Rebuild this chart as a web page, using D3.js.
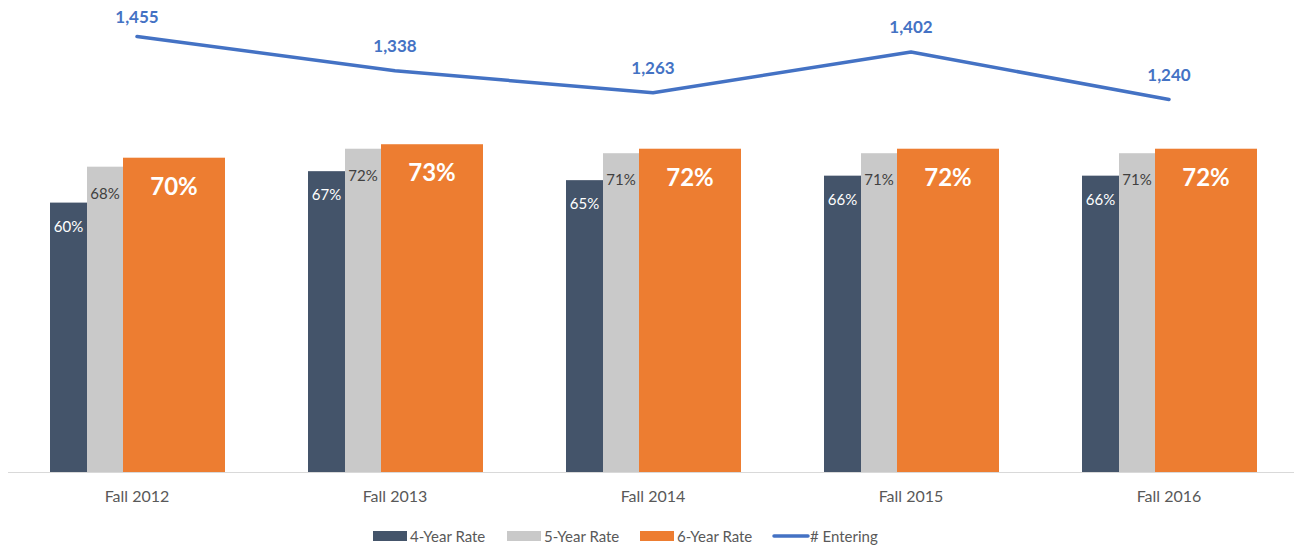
<!DOCTYPE html>
<html>
<head>
<meta charset="utf-8">
<script src="https://cdn.jsdelivr.net/npm/d3@7/dist/d3.min.js"></script>
<style>
  body { margin: 0; background: #fff; }
  svg { display: block; font-family: Lato, "Open Sans", sans-serif; }
</style>
</head>
<body>
<svg id="chart" width="1294" height="546"></svg>
<script>
const categories = ["Fall 2012", "Fall 2013", "Fall 2014", "Fall 2015", "Fall 2016"];
const rate4 = [60, 67, 65, 66, 66];
const rate5 = [68, 72, 71, 71, 71];
const rate6 = [70, 73, 72, 72, 72];
const entering = [1455, 1338, 1263, 1402, 1240];

const seriesNames = ["4-Year Rate", "5-Year Rate", "6-Year Rate", "# Entering"];
const colours = { r4: "#44546A", r5: "#C9C9C9", r6: "#ED7D31", line: "#4472C4" };

const svg = d3.select("#chart");
const width = 1294;
const margin = { left: 8, right: -4, baseline: 472 };

const x = d3.scaleBand()
    .domain(categories)
    .range([margin.left, width - margin.right])
    .padding(0);

const y = d3.scaleLinear()
    .domain([0, 100])
    .range([margin.baseline, 23]);

// secondary axis for the line (hidden)
const y2 = d3.scaleLinear()
    .domain([0, 1600])
    .range([463, -6]);

const bw = x.bandwidth();
// bar offsets relative to the band centre, as fractions of the band
const barDefs = [
    { key: "r4", values: rate4, from: -87 / 258, to: -50 / 258 },
    { key: "r5", values: rate5, from: -50 / 258, to: -14 / 258 },
    { key: "r6", values: rate6, from: -14 / 258, to: 88 / 258 }
];

const centre = c => x(c) + bw / 2;

// axis line
svg.append("line")
    .attr("x1", margin.left).attr("x2", width)
    .attr("y1", y(0) + 0.5).attr("y2", y(0) + 0.5)
    .attr("stroke", "#D9D9D9").attr("stroke-width", 1);

barDefs.forEach(def => {
    const g = svg.append("g").attr("class", "bars-" + def.key);
    g.selectAll("rect")
        .data(categories)
        .enter().append("rect")
        .attr("x", c => centre(c) + def.from * bw)
        .attr("width", (def.to - def.from) * bw)
        .attr("y", (c, i) => y(def.values[i]))
        .attr("height", (c, i) => y(0) - y(def.values[i]))
        .attr("fill", colours[def.key]);

    const big = def.key === "r6";
    g.selectAll("text")
        .data(categories)
        .enter().append("text")
        .attr("x", c => centre(c) + (def.from + def.to) / 2 * bw)
        .attr("y", (c, i) => y(def.values[i]) + (big ? 37 : def.key === "r5" ? 32 : 29))
        .attr("text-anchor", "middle")
        .attr("font-size", big ? 24 : 15)
        .attr("font-weight", big ? "bold" : "normal")
        .attr("fill", def.key === "r5" ? "#404040" : "#fff")
        .text((c, i) => def.values[i] + "%");
});

// category labels
svg.append("g").selectAll("text")
    .data(categories)
    .enter().append("text")
    .attr("x", c => centre(c))
    .attr("y", 502)
    .attr("text-anchor", "middle")
    .attr("font-size", 16)
    .attr("fill", "#595959")
    .text(c => c);

// line
const line = d3.line()
    .x((d, i) => centre(categories[i]))
    .y(d => y2(d));

svg.append("path")
    .datum(entering)
    .attr("d", line)
    .attr("fill", "none")
    .attr("stroke", colours.line)
    .attr("stroke-width", 3.5)
    .attr("stroke-linecap", "round")
    .attr("stroke-linejoin", "round");

svg.append("g").selectAll("text")
    .data(entering)
    .enter().append("text")
    .attr("x", (d, i) => centre(categories[i]))
    .attr("y", d => Math.max(y2(d) - 19, 23))
    .attr("text-anchor", "middle")
    .attr("font-size", 17)
    .attr("font-weight", "bold")
    .attr("fill", colours.line)
    .text(d => d3.format(",")(d));

// legend
const legendItems = [
    { name: seriesNames[0], colour: colours.r4, type: "rect", x: 373 },
    { name: seriesNames[1], colour: colours.r5, type: "rect", x: 507 },
    { name: seriesNames[2], colour: colours.r6, type: "rect", x: 640 },
    { name: seriesNames[3], colour: colours.line, type: "line", x: 773 }
];
const legend = svg.append("g").attr("transform", "translate(0,536)");
legendItems.forEach(item => {
    if (item.type === "rect") {
        legend.append("rect")
            .attr("x", item.x).attr("y", -5)
            .attr("width", 34).attr("height", 10)
            .attr("fill", item.colour);
    } else {
        legend.append("line")
            .attr("x1", item.x + 1).attr("x2", item.x + 35)
            .attr("y1", 0).attr("y2", 0)
            .attr("stroke", item.colour).attr("stroke-width", 3.5)
            .attr("stroke-linecap", "round");
    }
    legend.append("text")
        .attr("x", item.x + 37)
        .attr("y", 5.5)
        .attr("font-size", 15)
        .attr("fill", "#595959")
        .text(item.name);
});
</script>
</body>
</html>
